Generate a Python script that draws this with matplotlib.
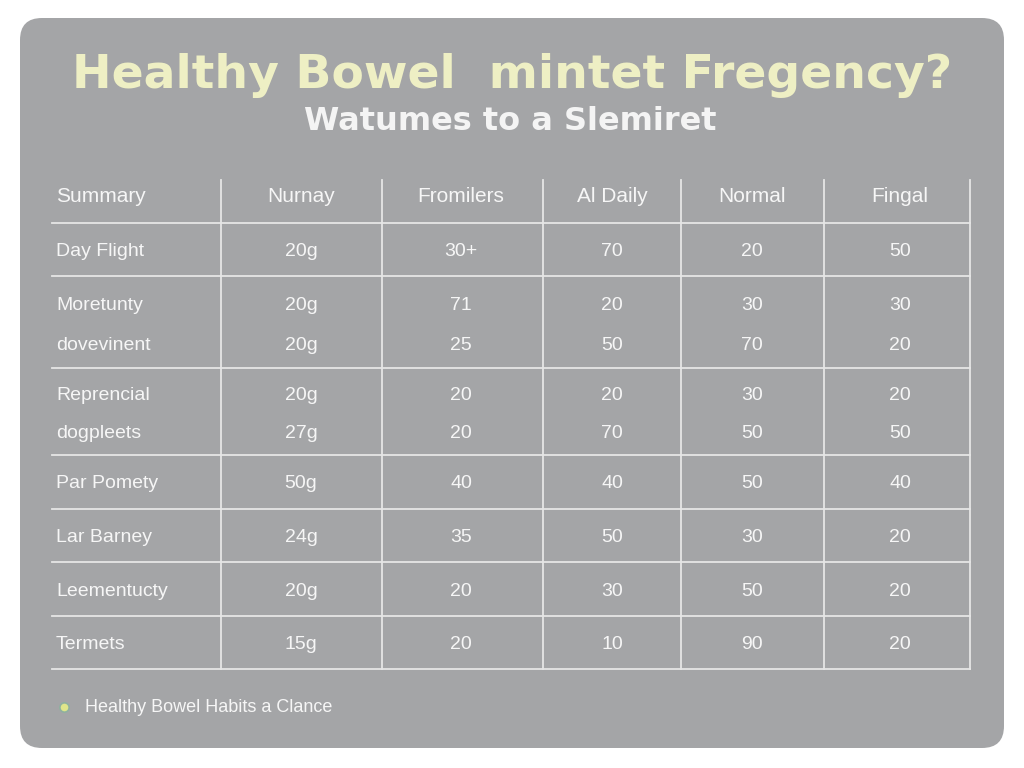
import matplotlib.pyplot as plt
from matplotlib.patches import FancyBboxPatch

W, H = 1024, 768

title = 'Healthy Bowel  mintet Fregency?'
subtitle = 'Watumes to a Slemiret'
columns = ['Summary', 'Nurnay', 'Fromilers', 'Al Daily', 'Normal', 'Fingal']
# each group may hold one or two lines
row_groups = [
    [('Day Flight', ['20g', '30+', '70', '20', '50'])],
    [('Moretunty', ['20g', '71', '20', '30', '30']),
     ('dovevinent', ['20g', '25', '50', '70', '20'])],
    [('Reprencial', ['20g', '20', '20', '30', '20']),
     ('dogpleets', ['27g', '20', '70', '50', '50'])],
    [('Par Pomety', ['50g', '40', '40', '50', '40'])],
    [('Lar Barney', ['24g', '35', '50', '30', '20'])],
    [('Leementucty', ['20g', '20', '30', '50', '20'])],
    [('Termets', ['15g', '20', '10', '90', '20'])],
]
legend_label = 'Healthy Bowel Habits a Clance'

plt.rcParams['font.family'] = 'Liberation Sans'

fig = plt.figure(figsize=(W / 100, H / 100), dpi=100)
fig.patch.set_facecolor('white')
ax = fig.add_axes([0, 0, 1, 1])
ax.set_xlim(0, W)
ax.set_ylim(H, 0)
ax.axis('off')

ax.add_patch(FancyBboxPatch((20, 18), 984, 730, boxstyle='round,pad=0,rounding_size=22',
                            facecolor='#a4a5a7', edgecolor='none'))

ax.text(512, 75, title, ha='center', va='center', fontsize=34, fontweight='bold',
        color='#eeefc4', family='DejaVu Sans')
ax.text(510, 122, subtitle, ha='center', va='center', fontsize=23, fontweight='bold',
        color='#f4f4f4', family='DejaVu Sans')

col_edges = [52, 221, 382, 543, 681, 824, 970]
col_centers = [301, 461, 612, 752, 900]
line_c = '#e6e6e6'
txt_c = '#f6f6f6'

# header
top, head_bot = 180, 223
ax.text(56, 197, columns[0], ha='left', va='center', fontsize=15, color=txt_c)
for c, name in zip(col_centers, columns[1:]):
    ax.text(c, 197, name, ha='center', va='center', fontsize=15, color=txt_c)
ax.plot([col_edges[0], col_edges[-1]], [head_bot, head_bot], color=line_c, lw=1.3)

group_heights = [53, 92, 87, 54, 53, 54, 53]
y = head_bot
for grp, gh in zip(row_groups, group_heights):
    n = len(grp)
    if n == 1:
        ys = [y + gh / 2 + 2]
    else:
        ys = [y + gh * 0.32, y + gh * 0.75]
    for (label, vals), yy in zip(grp, ys):
        ax.text(56, yy, label, ha='left', va='center', fontsize=14, color=txt_c)
        for c, v in zip(col_centers, vals):
            ax.text(c, yy, v, ha='center', va='center', fontsize=14, color=txt_c)
    y += gh
    ax.plot([col_edges[0], col_edges[-1]], [y, y], color=line_c, lw=1.3)

for x in col_edges[1:]:
    ax.plot([x, x], [top, y], color=line_c, lw=1.3)

ax.scatter([64], [707], s=45, color='#dfe68a', edgecolor='#8fb0a0', linewidth=1.2, zorder=3)
ax.text(85, 708, legend_label, ha='left', va='center', fontsize=13, color=txt_c)

fig.savefig('out.png', dpi=100, facecolor='white')
